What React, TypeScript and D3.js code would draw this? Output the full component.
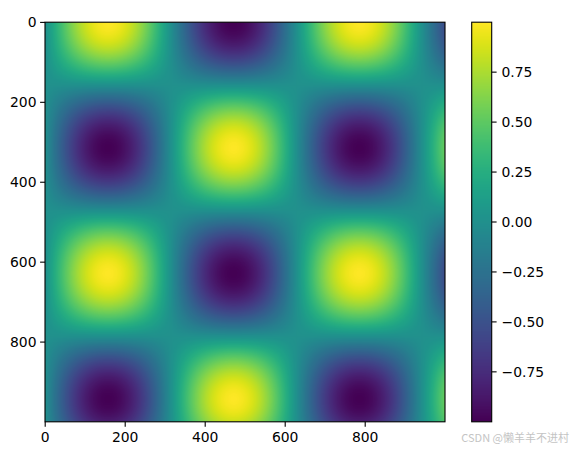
import React, { useMemo } from "react";
import * as d3 from "d3";

// Field: z = sin(x / xPeriod) * cos(y / yPeriod) on a 1000x1000 grid
const gridSize = 1000;
const xPeriod = 100; // yellow peaks at x≈157, 785; purple at x≈471
const yPeriod = 100; // rows alternate at y≈0, 314, 628, 942
const xTicks = [0, 200, 400, 600, 800];
const yTicks = [0, 200, 400, 600, 800];
const cbTicks = [-0.75, -0.5, -0.25, 0, 0.25, 0.5, 0.75];
const watermark = "CSDN @懒羊羊不进村";

const W = 572;
const H = 450;
const ax = { left: 45, right: 445, top: 22.2, bottom: 421.8 };
const cb = { left: 471.7, right: 491.7, top: 22.2, bottom: 421.8 };
const FONT = "DejaVu Sans, sans-serif";
const FS = 13.9;

function fmtCb(v: number) {
  const s = Math.abs(v).toFixed(2);
  return v < 0 ? "\u2212" + s : s;
}

export default function App() {
  const { imgUrl, cbUrl, zMin, zMax } = useMemo(() => {
    const vals = new Float32Array(gridSize * gridSize);
    let mn = Infinity, mx = -Infinity;
    for (let j = 0; j < gridSize; j++) {
      const cy = Math.cos(j / yPeriod);
      for (let i = 0; i < gridSize; i++) {
        const v = Math.sin(i / xPeriod) * cy;
        vals[j * gridSize + i] = v;
        if (v < mn) mn = v;
        if (v > mx) mx = v;
      }
    }
    const color = d3.scaleSequential(d3.interpolateViridis).domain([mn, mx]);
    const lut: number[][] = [];
    for (let k = 0; k < 256; k++) {
      const c = d3.rgb(d3.interpolateViridis(k / 255));
      lut.push([c.r, c.g, c.b]);
    }
    const canvas = document.createElement("canvas");
    canvas.width = gridSize;
    canvas.height = gridSize;
    const ctx = canvas.getContext("2d")!;
    const img = ctx.createImageData(gridSize, gridSize);
    for (let p = 0; p < vals.length; p++) {
      const t = (vals[p] - mn) / (mx - mn);
      const k = Math.max(0, Math.min(255, Math.round(t * 255)));
      const c = lut[k];
      img.data[p * 4] = c[0];
      img.data[p * 4 + 1] = c[1];
      img.data[p * 4 + 2] = c[2];
      img.data[p * 4 + 3] = 255;
    }
    ctx.putImageData(img, 0, 0);
    const url = canvas.toDataURL();

    const c2 = document.createElement("canvas");
    c2.width = 1;
    c2.height = 256;
    const ctx2 = c2.getContext("2d")!;
    for (let k = 0; k < 256; k++) {
      ctx2.fillStyle = color(mx - (k / 255) * (mx - mn));
      ctx2.fillRect(0, k, 1, 1);
    }
    return { imgUrl: url, cbUrl: c2.toDataURL(), zMin: mn, zMax: mx };
  }, []);

  const x = d3.scaleLinear().domain([-0.5, gridSize - 0.5]).range([ax.left, ax.right]);
  const y = d3.scaleLinear().domain([-0.5, gridSize - 0.5]).range([ax.top, ax.bottom]);
  const yc = d3.scaleLinear().domain([zMin, zMax]).range([cb.bottom, cb.top]);

  return (
    <svg width={W} height={H} style={{ position: "absolute", left: 0, top: 0, background: "#fff" }}>
      <image
        href={imgUrl}
        x={ax.left}
        y={ax.top}
        width={ax.right - ax.left}
        height={ax.bottom - ax.top}
        preserveAspectRatio="none"
      />
      <rect
        x={ax.left}
        y={ax.top}
        width={ax.right - ax.left}
        height={ax.bottom - ax.top}
        fill="none"
        stroke="#000"
        strokeWidth={1.1}
      />
      {xTicks.map((t) => (
        <g key={"x" + t}>
          <line x1={x(t)} x2={x(t)} y1={ax.bottom} y2={ax.bottom + 4.9} stroke="#000" strokeWidth={1.1} />
          <text x={x(t)} y={ax.bottom + 20} textAnchor="middle" fontFamily={FONT} fontSize={FS} fill="#000">
            {t}
          </text>
        </g>
      ))}
      {yTicks.map((t) => (
        <g key={"y" + t}>
          <line x1={ax.left - 4.9} x2={ax.left} y1={y(t)} y2={y(t)} stroke="#000" strokeWidth={1.1} />
          <text x={ax.left - 8.5} y={y(t)} dy="0.36em" textAnchor="end" fontFamily={FONT} fontSize={FS} fill="#000">
            {t}
          </text>
        </g>
      ))}
      <image
        href={cbUrl}
        x={cb.left}
        y={cb.top}
        width={cb.right - cb.left}
        height={cb.bottom - cb.top}
        preserveAspectRatio="none"
      />
      <rect
        x={cb.left}
        y={cb.top}
        width={cb.right - cb.left}
        height={cb.bottom - cb.top}
        fill="none"
        stroke="#000"
        strokeWidth={1.1}
      />
      {cbTicks.map((t) => (
        <g key={"c" + t}>
          <line x1={cb.right} x2={cb.right + 4.9} y1={yc(t)} y2={yc(t)} stroke="#000" strokeWidth={1.1} />
          <text x={cb.right + 9.8} y={yc(t)} dy="0.36em" textAnchor="start" fontFamily={FONT} fontSize={FS} fill="#000">
            {fmtCb(t)}
          </text>
        </g>
      ))}
      <text
        x={569}
        y={442}
        textAnchor="end"
        fontFamily="Noto Sans CJK SC, sans-serif"
        fontSize={11}
        fill="#c4c4c4"
      >
        {watermark}
      </text>
    </svg>
  );
}
